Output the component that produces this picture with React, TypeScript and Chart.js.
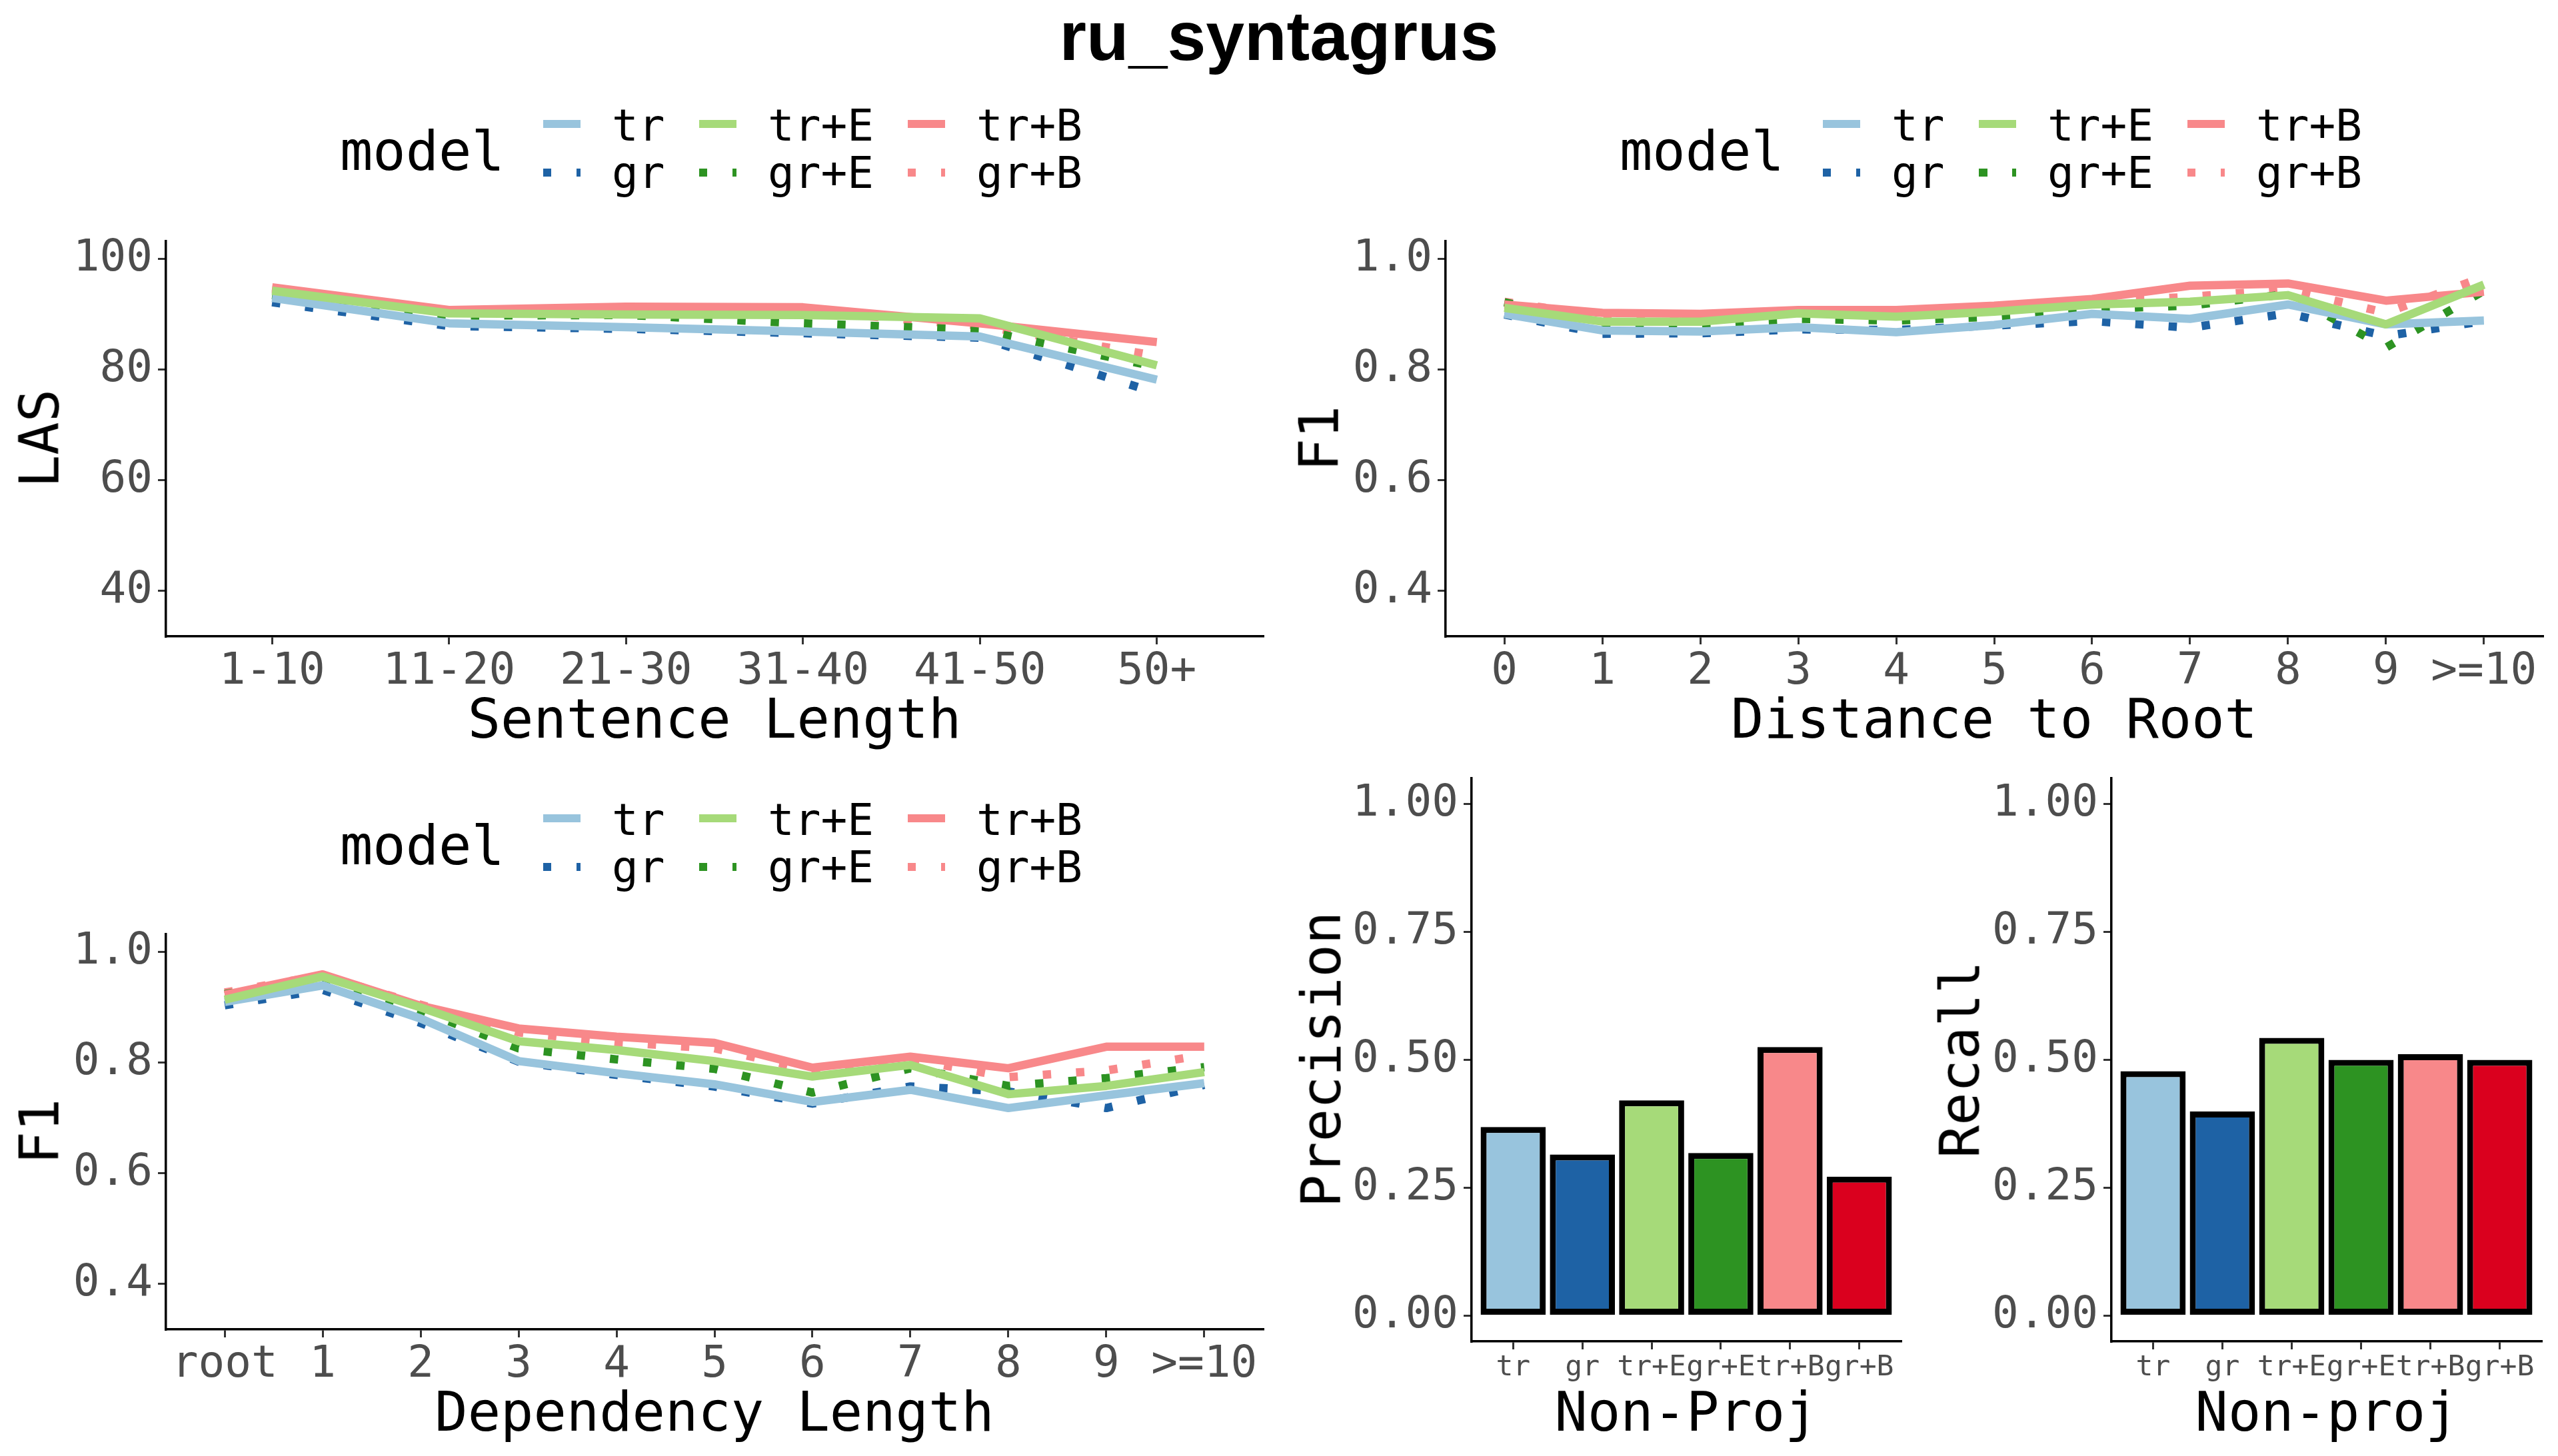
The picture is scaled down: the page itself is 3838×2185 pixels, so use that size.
import React, { useEffect, useRef } from 'react';
import { Chart, registerables } from 'chart.js';

Chart.register(...registerables);

// models, in legend order (column by column)
const models = ['tr', 'gr', 'tr+E', 'gr+E', 'tr+B', 'gr+B'];
const lineColors = ['#98C4DD', '#1E62A5', '#A6DA79', '#2D9322', '#F8888A', '#F8888A'];
const barColors = ['#98C4DD', '#1E62A5', '#A6DA79', '#2D9322', '#F8888A', '#DA001E'];
const modelDotted = [false, true, false, true, false, true];
// ggplot draws groups alphabetically, so tr+E ends up on top
const drawOrder = ['tr+E', 'tr+B', 'tr', 'gr+E', 'gr+B', 'gr'];

// Sentence length -> LAS
const sentenceCats = ['1-10', '11-20', '21-30', '31-40', '41-50', '50+'];
const lasTr = [93.0, 88.4, 87.7, 86.9, 86.0, 78.2];
const lasGr = [92.2, 87.9, 87.4, 86.6, 85.8, 75.8];
const lasTrE = [94.3, 90.2, 90.0, 89.9, 89.3, 80.8];
const lasGrE = [93.5, 89.8, 89.9, 88.4, 87.2, 80.5];
const lasTrB = [94.9, 90.8, 91.4, 91.3, 88.4, 85.0];
const lasGrB = [94.6, 90.6, 90.8, 90.6, 88.0, 82.5];

// Distance to root -> F1
const distCats = ['0', '1', '2', '3', '4', '5', '6', '7', '8', '9', '>=10'];
const distTr = [0.901, 0.871, 0.869, 0.877, 0.868, 0.881, 0.901, 0.892, 0.918, 0.882, 0.889];
const distGr = [0.900, 0.865, 0.866, 0.873, 0.872, 0.880, 0.888, 0.876, 0.902, 0.861, 0.888];
const distTrE = [0.912, 0.887, 0.887, 0.902, 0.896, 0.905, 0.918, 0.923, 0.935, 0.882, 0.954];
const distGrE = [0.922, 0.884, 0.883, 0.892, 0.889, 0.896, 0.910, 0.916, 0.937, 0.840, 0.943];
const distTrB = [0.918, 0.903, 0.901, 0.908, 0.908, 0.916, 0.928, 0.952, 0.956, 0.925, 0.941];
const distGrB = [0.923, 0.897, 0.895, 0.902, 0.902, 0.910, 0.922, 0.932, 0.945, 0.903, 0.968];

// Dependency length -> F1
const depCats = ['root', '1', '2', '3', '4', '5', '6', '7', '8', '9', '>=10'];
const depTr = [0.910, 0.940, 0.880, 0.803, 0.781, 0.761, 0.729, 0.751, 0.718, 0.741, 0.763];
const depGr = [0.904, 0.932, 0.872, 0.802, 0.778, 0.757, 0.726, 0.757, 0.748, 0.718, 0.760];
const depTrE = [0.914, 0.956, 0.900, 0.839, 0.823, 0.803, 0.775, 0.796, 0.743, 0.758, 0.783];
const depGrE = [0.924, 0.955, 0.895, 0.826, 0.806, 0.789, 0.746, 0.790, 0.758, 0.772, 0.792];
const depTrB = [0.923, 0.960, 0.903, 0.862, 0.847, 0.836, 0.791, 0.811, 0.790, 0.829, 0.829];
const depGrB = [0.927, 0.958, 0.905, 0.855, 0.837, 0.826, 0.786, 0.806, 0.774, 0.786, 0.814];

// Non-projective arcs
const nonProjPrecision = [0.369, 0.315, 0.421, 0.318, 0.525, 0.272];
const nonProjRecall = [0.478, 0.399, 0.543, 0.500, 0.511, 0.500];

const lasTicks = [40, 60, 80, 100];
const f1Ticks = [0.4, 0.6, 0.8, 1.0];
const barTicks = [0, 0.25, 0.5, 0.75, 1.0];

const MONO = "'DejaVu Sans Mono', monospace";
const TICK_COLOR = '#4D4D4D';
const LW = 12.5;

type Box = { l: number; t: number; r: number; b: number };

const PAD_L = 240;
const PAD_T = 60;
const PAD_R = 20;
const PAD_B = 130;

function baseOptions(n: number, cats: string[], yMin: number, yMax: number,
  yTicks: number[], yFmt: (v: number) => string, xFont: number): any {
  return {
    animation: false,
    responsive: false,
    layout: { padding: { top: PAD_T, right: PAD_R, left: 0, bottom: 0 } },
    plugins: { legend: { display: false }, tooltip: { enabled: false }, title: { display: false } },
    scales: {
      x: {
        type: 'linear',
        offset: false,
        min: -0.6,
        max: n - 1 + 0.6,
        afterFit: (s: any) => { s.height = PAD_B; },
        afterBuildTicks: (s: any) => { s.ticks = cats.map((_, i) => ({ value: i })); },
        ticks: {
          autoSkip: false, maxRotation: 0, minRotation: 0, padding: 2,
          color: TICK_COLOR, font: { family: MONO, size: xFont },
          callback: (v: any) => cats[Math.round(Number(v))],
        },
        grid: { offset: false, drawOnChartArea: false, drawTicks: true, tickLength: 12, lineWidth: 3, color: '#333333' },
        border: { display: true, color: '#000000', width: 3.5 },
      },
      y: {
        type: 'linear',
        min: yMin,
        max: yMax,
        afterFit: (s: any) => { s.width = PAD_L; },
        afterBuildTicks: (s: any) => { s.ticks = yTicks.map((v) => ({ value: v })); },
        ticks: {
          padding: 8, color: TICK_COLOR, font: { family: MONO, size: 66 },
          callback: (v: any) => yFmt(Number(v)),
        },
        grid: { drawOnChartArea: false, drawTicks: true, tickLength: 12, lineWidth: 3, color: '#333333' },
        border: { display: true, color: '#000000', width: 3.5 },
      },
    },
  };
}

function canvasStyle(box: Box) {
  const w = Math.round(box.r - box.l + PAD_L + PAD_R);
  const h = Math.round(box.b - box.t + PAD_T + PAD_B);
  return { w, h, left: box.l - PAD_L, top: box.t - PAD_T };
}

function LinePanel({ box, cats, series, yMin, yMax, yTicks, yFmt }: {
  box: Box; cats: string[]; series: number[][]; yMin: number; yMax: number;
  yTicks: number[]; yFmt: (v: number) => string;
}) {
  const ref = useRef<HTMLCanvasElement>(null);
  const cs = canvasStyle(box);
  useEffect(() => {
    if (!ref.current) return;
    const datasets = drawOrder.map((m) => {
      const k = models.indexOf(m);
      return {
        label: m,
        data: series[k].map((y, i) => ({ x: i, y })),
        borderColor: lineColors[k],
        backgroundColor: lineColors[k],
        borderWidth: LW,
        borderDash: modelDotted[k] ? [LW, 3 * LW] : [],
        borderCapStyle: 'butt',
        borderJoinStyle: 'round',
        pointRadius: 0,
        fill: false,
        tension: 0,
      };
    });
    const chart = new Chart(ref.current, {
      type: 'line',
      data: { datasets } as any,
      options: baseOptions(cats.length, cats, yMin, yMax, yTicks, yFmt, 66),
    });
    return () => chart.destroy();
  }, []);
  return (
    <canvas ref={ref} width={cs.w} height={cs.h}
      style={{ position: 'absolute', left: cs.left, top: cs.top, width: cs.w, height: cs.h }} />
  );
}

function BarPanel({ box, values }: { box: Box; values: number[] }) {
  const ref = useRef<HTMLCanvasElement>(null);
  const cs = canvasStyle(box);
  useEffect(() => {
    if (!ref.current) return;
    const chart = new Chart(ref.current, {
      type: 'bar',
      data: {
        datasets: [{
          data: values.map((y, i) => ({ x: i, y })),
          backgroundColor: barColors,
          borderColor: '#000000',
          borderWidth: 9,
          borderSkipped: false,
          barPercentage: 0.94,
          categoryPercentage: 1,
        }],
      } as any,
      options: baseOptions(models.length, models, -0.05, 1.05, barTicks, (v) => v.toFixed(2), 43),
    });
    return () => chart.destroy();
  }, []);
  return (
    <canvas ref={ref} width={cs.w} height={cs.h}
      style={{ position: 'absolute', left: cs.left, top: cs.top, width: cs.w, height: cs.h }} />
  );
}

// text placed by its baseline
function HText({ x, baseline, size, children, bold, family, align }: any) {
  return (
    <div style={{
      position: 'absolute', left: x, top: baseline - 0.846 * size,
      fontFamily: family || MONO, fontSize: size, lineHeight: 1, whiteSpace: 'nowrap',
      fontWeight: bold ? 'bold' : 'normal', color: '#000',
      transform: align === 'center' ? 'translateX(-50%)' : undefined,
    }}>{children}</div>
  );
}

function VText({ baselineX, cy, size, children }: any) {
  return (
    <div style={{
      position: 'absolute', left: baselineX, top: cy,
      fontFamily: MONO, fontSize: size, lineHeight: 1, whiteSpace: 'nowrap', color: '#000',
      transformOrigin: '0 0', transform: 'rotate(-90deg) translate(-50%, -0.846em)',
    }}>{children}</div>
  );
}

const keyX = [815, 1049, 1362];
const keyCY = [186, 259];
const labelBase = [212, 283];

function Legend({ dx, dy }: { dx: number; dy: number }) {
  return (
    <>
      <HText x={510 + dx} baseline={255 + dy} size={82}>model</HText>
      {models.map((m, k) => {
        const c = Math.floor(k / 2);
        const r = k % 2;
        const col = lineColors[k];
        const bg = modelDotted[k]
          ? `repeating-linear-gradient(90deg, ${col} 0px, ${col} ${LW}px, transparent ${LW}px, transparent ${4 * LW}px)`
          : col;
        return (
          <React.Fragment key={m}>
            <div style={{
              position: 'absolute', left: keyX[c] + dx, top: keyCY[r] - LW / 2 + dy,
              width: 56, height: LW, background: bg,
            }} />
            <HText x={keyX[c] + 103 + dx} baseline={labelBase[r] + dy} size={66}>{m}</HText>
          </React.Fragment>
        );
      })}
    </>
  );
}

const boxLas: Box = { l: 249, t: 362, r: 1895, b: 955 };
const boxDist: Box = { l: 2169, t: 362, r: 3815, b: 955 };
const boxDep: Box = { l: 249, t: 1402, r: 1895, b: 1995 };
const boxPrec: Box = { l: 2208, t: 1168, r: 2852, b: 2013 };
const boxRec: Box = { l: 3168, t: 1168, r: 3813, b: 2013 };

export default function App() {
  useEffect(() => {
    document.body.style.margin = '0';
    document.body.style.overflow = 'hidden';
  }, []);
  const f1 = (v: number) => v.toFixed(1);
  return (
    <div style={{ position: 'absolute', left: 0, top: 0, width: 3838, height: 2185, background: '#fff', overflow: 'hidden' }}>
      <LinePanel box={boxLas} cats={sentenceCats}
        series={[lasTr, lasGr, lasTrE, lasGrE, lasTrB, lasGrB]}
        yMin={31.75} yMax={103.25} yTicks={lasTicks} yFmt={(v) => String(v)} />
      <LinePanel box={boxDist} cats={distCats}
        series={[distTr, distGr, distTrE, distGrE, distTrB, distGrB]}
        yMin={0.3175} yMax={1.0325} yTicks={f1Ticks} yFmt={f1} />
      <LinePanel box={boxDep} cats={depCats}
        series={[depTr, depGr, depTrE, depGrE, depTrB, depGrB]}
        yMin={0.3175} yMax={1.0325} yTicks={f1Ticks} yFmt={f1} />
      <BarPanel box={boxPrec} values={nonProjPrecision} />
      <BarPanel box={boxRec} values={nonProjRecall} />

      <HText x={1919} baseline={90} size={104} bold family="'Liberation Sans', Arial, sans-serif" align="center">ru_syntagrus</HText>

      <Legend dx={0} dy={0} />
      <Legend dx={1920} dy={0} />
      <Legend dx={0} dy={1042} />

      <HText x={1072} baseline={1107} size={82} align="center">Sentence Length</HText>
      <HText x={2992} baseline={1107} size={82} align="center">Distance to Root</HText>
      <HText x={1072} baseline={2147} size={82} align="center">Dependency Length</HText>
      <HText x={2530} baseline={2147} size={82} align="center">Non-Proj</HText>
      <HText x={3491} baseline={2147} size={82} align="center">Non-proj</HText>

      <VText baselineX={88} cy={658} size={82}>LAS</VText>
      <VText baselineX={2008} cy={658} size={82}>F1</VText>
      <VText baselineX={88} cy={1698} size={82}>F1</VText>
      <VText baselineX={2011} cy={1590} size={82}>Precision</VText>
      <VText baselineX={2969} cy={1590} size={82}>Recall</VText>
    </div>
  );
}
